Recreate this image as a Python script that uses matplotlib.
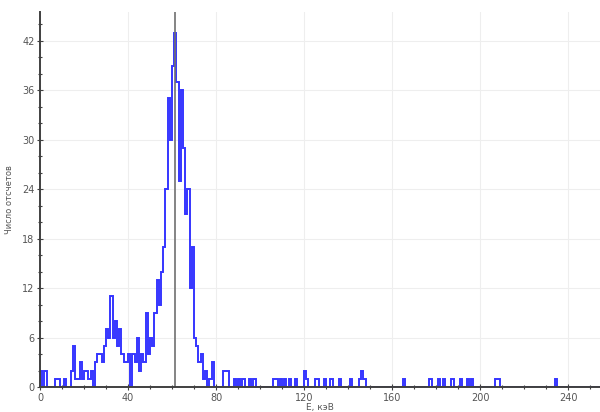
import numpy as np
import matplotlib
matplotlib.use("Agg")
import matplotlib.pyplot as plt
from matplotlib.ticker import MultipleLocator

# Energy spectrum, 1 keV bins
bin_width = 1.0
n_bins = 255

# Counts for the low-energy part (bins 0..88)
counts_low = [
    2, 0, 2, 0, 0, 0, 0, 1, 1, 0,
    0, 1, 0, 0, 2, 5, 1, 1, 3, 1,
    2, 2, 1, 2, 0, 3, 4, 4, 3, 5,
    7, 6, 11, 6, 8, 5, 7, 4, 3, 3,
    4, 0, 4, 3, 6, 2, 4, 3, 9, 4,
    6, 5, 9, 13, 10, 14, 17, 24, 35, 30,
    39, 43, 37, 25, 36, 29, 21, 24, 12, 17,
    6, 5, 3, 4, 1, 2, 0, 1, 3, 0,
    0, 0, 0, 2, 2, 2, 0, 0, 1,
]

# Sparse high-energy tail: bin energy -> counts
tail_energy = [90, 92, 95, 97, 106, 107, 109, 111, 113, 116, 120, 121, 125, 126,
               129, 132, 136, 141, 145, 146, 147, 165, 177, 181, 183, 187, 191,
               194, 196, 207, 208, 234]
tail_counts = [1, 1, 1, 1, 1, 1, 1, 1, 1, 1, 2, 1, 1, 1,
               1, 1, 1, 1, 1, 2, 1, 1, 1, 1, 1, 1, 1,
               1, 1, 1, 1, 1]

marker_energy = 61.4  # reference line

counts = np.zeros(n_bins)
counts[:len(counts_low)] = counts_low
for e, c in zip(tail_energy, tail_counts):
    counts[int(e)] = c
edges = np.arange(n_bins + 1) * bin_width

fig = plt.figure(figsize=(6.0, 4.12), dpi=100)
ax = fig.add_axes([0.0667, 0.0607, 0.9333, 0.9103])

ax.stairs(counts, edges, color="#3535ff", lw=1.4)
ax.axvline(marker_energy, color="#707070", lw=1.2, zorder=3)

ax.set_xlim(0, 254.5)
ax.set_ylim(0, 45.5)

ax.xaxis.set_major_locator(MultipleLocator(40))
ax.xaxis.set_minor_locator(MultipleLocator(10))
ax.yaxis.set_major_locator(MultipleLocator(6))
ax.yaxis.set_minor_locator(MultipleLocator(2))

ax.grid(True, which="major", color="#eeeeee", lw=0.8)
ax.set_axisbelow(True)

for side in ("top", "right"):
    ax.spines[side].set_visible(False)
for side in ("left", "bottom"):
    ax.spines[side].set_color("#404040")
    ax.spines[side].set_linewidth(1.4)
    ax.spines[side].set_zorder(4)

ax.tick_params(which="major", direction="inout", length=4, width=0.8,
               colors="#404040", labelsize=7, labelcolor="#555555", pad=2)
ax.tick_params(which="minor", direction="inout", length=2.5, width=0.8,
               colors="#404040")

ax.set_xlabel("E, кэВ", fontsize=6.5, color="#555555", labelpad=0)
ax.set_ylabel("Число отсчетов", fontsize=6, color="#555555", labelpad=6)

fig.savefig("out.png", dpi=100)
